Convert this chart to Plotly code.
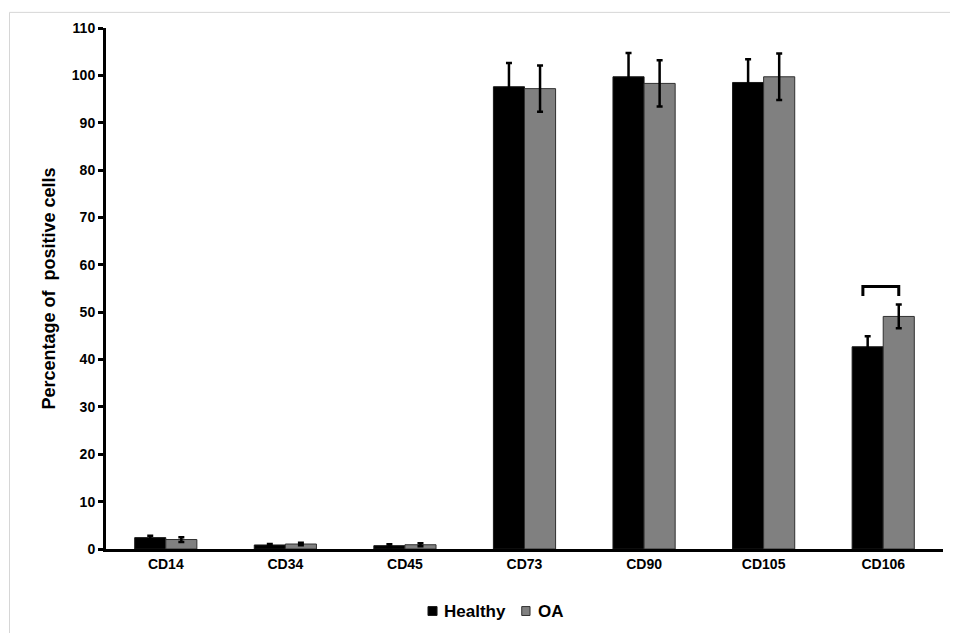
import plotly.graph_objects as go

categories = ["CD14", "CD34", "CD45", "CD73", "CD90", "CD105", "CD106"]
healthy = [2.4, 0.85, 0.7, 97.6, 99.7, 98.5, 42.7]
healthy_err = [0.4, 0.2, 0.3, 5.0, 5.0, 4.9, 2.2]
oa = [2.0, 1.05, 0.9, 97.2, 98.3, 99.7, 49.1]
oa_err = [0.5, 0.25, 0.3, 4.9, 4.9, 4.9, 2.5]
y_ticks = list(range(0, 111, 10))
series_names = ["Healthy", "OA"]
series_colors = ["#000000", "#808080"]
series_edges = ["#1a1a1a", "#303030"]
bracket_category = "CD106"

FONT = "Liberation Sans, Arial, sans-serif"

fig = go.Figure()
for name, vals, errs, col, edge in zip(series_names, [healthy, oa], [healthy_err, oa_err],
                                       series_colors, series_edges):
    fig.add_trace(go.Bar(
        name=name, x=categories, y=vals, showlegend=False,
        marker=dict(color=col, line=dict(color=edge, width=1)),
        error_y=dict(type="data", array=errs, color="#000000", thickness=2.5, width=3),
    ))

bargap = 0.48
half = (1 - bargap) / 4  # offset of each bar centre from category centre

# significance bracket over CD106, derived from the data
i = categories.index(bracket_category)
top = max(healthy[i] + healthy_err[i], oa[i] + oa_err[i]) + 3.8
x0 = i - half - 0.04
x1 = i + half
fig.add_shape(type="path",
              path=f"M {x0},{top-2} L {x0},{top} L {x1},{top} L {x1},{top-2}",
              xref="x", yref="y", line=dict(color="#000000", width=3))

# light frame lines of the original picture (left and top)
fig.add_shape(type="line", xref="paper", yref="paper", x0=-0.1153, x1=-0.1153, y0=1.03, y1=-0.2,
              line=dict(color="#d6d6d6", width=1))
fig.add_shape(type="line", xref="paper", yref="paper", x0=-0.1153, x1=1.1, y0=1.03, y1=1.03,
              line=dict(color="#d6d6d6", width=1))

# legend: small squares next to bold labels, below the axis
legend_sq = [(0.3847, 0.3955), (0.4967, 0.5066)]
legend_tx = [0.4011, 0.5134]
for (sx0, sx1), tx, name, col, edge in zip(legend_sq, legend_tx, series_names,
                                           series_colors, series_edges):
    fig.add_shape(type="rect", xref="paper", yref="paper", x0=sx0, x1=sx1,
                  y0=-0.1105, y1=-0.1276, fillcolor=col, line=dict(color=edge, width=1))
    fig.add_annotation(xref="paper", yref="paper", x=tx, y=-0.12, xanchor="left",
                       yanchor="middle", showarrow=False, text=name,
                       font=dict(size=17, weight="bold", family=FONT, color="#000000"))

fig.update_layout(
    width=950, height=625,
    margin=dict(l=98, r=15, t=16, b=84),
    paper_bgcolor="white", plot_bgcolor="white",
    barmode="group", bargap=bargap, bargroupgap=0,
    font=dict(family=FONT, color="#000000"),
    showlegend=False,
    xaxis=dict(range=[-0.5, 6.5], showline=True, linecolor="#000000", linewidth=3,
               ticks="", showgrid=False, zeroline=False,
               tickfont=dict(size=14, weight="bold", family=FONT)),
    yaxis=dict(range=[0, 110], tickvals=y_ticks, showline=True, linecolor="#000000", linewidth=3,
               ticks="outside", ticklen=5, tickwidth=3, tickcolor="#000000",
               showgrid=False, zeroline=False,
               tickfont=dict(size=14, weight="bold", family=FONT),
               title=dict(text="Percentage of &nbsp;positive cells", standoff=12,
                          font=dict(size=18, weight="bold", family=FONT))),
)

fig.write_html("out.html")
